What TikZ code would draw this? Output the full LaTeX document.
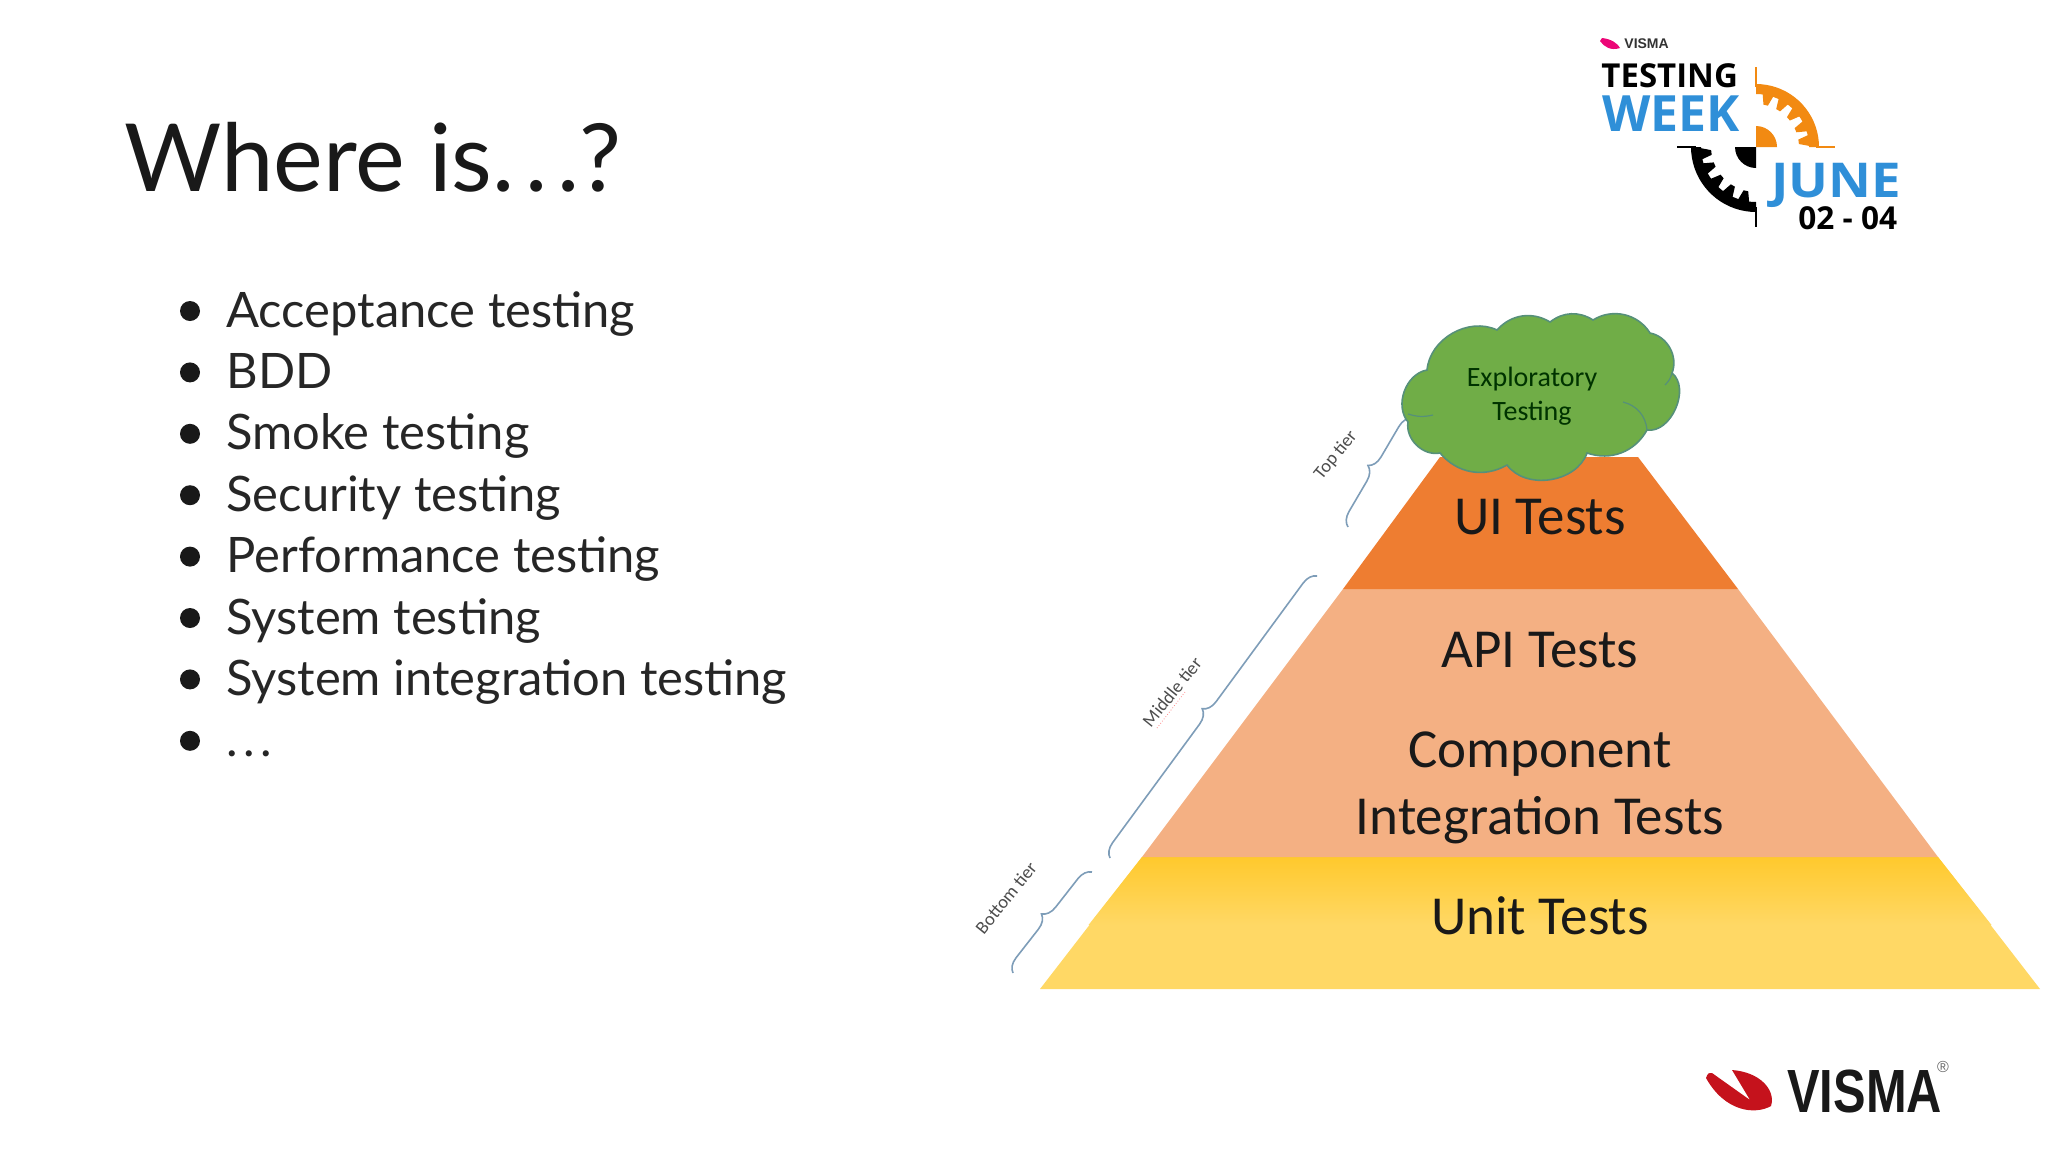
\documentclass[tikz,border=0pt]{standalone}
\usepackage{fontspec}
\setmainfont{Lato}
\newfontfamily\calibri{Carlito}
\newfontfamily\logofont{Open Sans}
\newfontfamily\wordmark{Liberation Sans}
\usetikzlibrary{decorations.pathreplacing}

\definecolor{uiorange}{HTML}{EE7D31}
\definecolor{midorange}{HTML}{F4B083}
\definecolor{unityellow}{HTML}{FFD865}
\definecolor{unitgold}{HTML}{FFC92D}
\definecolor{cloudgreen}{HTML}{70AD47}
\definecolor{cloudedge}{HTML}{56907A}
\definecolor{bracecol}{HTML}{7E9DB8}
\definecolor{logoblue}{HTML}{2F8FD8}
\definecolor{gearorange}{HTML}{F28A12}
\definecolor{vismared}{HTML}{C5121C}

\newcommand{\spaceddots}{.\kern.11em.\kern.11em.}

\tikzset{
    titletext/.style={anchor=base west,inner sep=0pt,font=\fontsize{47}{47}\selectfont,text=black!90},
    itemtext/.style={anchor=base west,inner sep=0pt,font=\fontsize{24.45}{25}\selectfont,text=black!85},
    itemdot/.style={circle,fill=black!90,inner sep=0pt,minimum size=10pt},
    tierfill/.style={font=\calibri\fontsize{27.5}{27.5}\selectfont,text=black!90,inner sep=0pt},
    tierlabel/.style={font=\calibri\fontsize{9.2}{9.2}\selectfont,text=black!70,inner sep=0pt,rotate=51},
    tierbrace/.style={draw=bracecol,line width=.8pt,decorate,decoration={brace,amplitude=7pt}},
    logotext/.style={font=\logofont\bfseries,inner sep=0pt,anchor=base west}
}

\begin{document}
\begin{tikzpicture}[x=.5pt,y=-.5pt]
    \useasboundingbox (0,0) rectangle (2048,1152);

    \node[titletext] (title) at (124,191) {Where is\spaceddots?};
    \foreach \idx/\txt in {0/Acceptance testing,1/BDD,2/Smoke testing,3/Security testing,
        4/Performance testing,5/System testing,6/System integration testing,7/\spaceddots}{
        \node[itemdot] (dot\idx) at (190,{311+61.4*\idx}) {};
        \node[itemtext] (item\idx) at (226,{327+61.4*\idx}) {\txt};
    }

    % pyramid
    \fill[unityellow] (1040,989) -- (1142,857) -- (1938,857) -- (2040,989) -- cycle;
    \shade[top color=unitgold,bottom color=unityellow] (1142,857) -- (1938,857) -- (1991.5,925) -- (1088.5,925) -- cycle;
    \fill[midorange] (1142,857) -- (1343,589) -- (1738,589) -- (1938,857) -- cycle;
    \fill[uiorange] (1343,589) -- (1440,457) -- (1638,457) -- (1738,589) -- cycle;

    \node[tierfill] (ui) at (1540,517) {UI Tests};
    \node[tierfill] (api) at (1540,650) {API Tests};
    \node[tierfill] (component) at (1540,754) {Component};
    \node[tierfill] (integration) at (1540,820) {Integration Tests};
    \node[tierfill] (unit) at (1540,916) {Unit Tests};

    % braces
    \coordinate (topa) at (1348,527);
    \coordinate (topb) at (1412,418);
    \coordinate (mida) at (1110,858);
    \coordinate (midb) at (1317,576);
    \coordinate (bota) at (1013,973);
    \coordinate (botb) at (1092,872);
    \draw[tierbrace] (topa) -- (topb);
    \draw[tierbrace] (mida) -- (midb);
    \draw[tierbrace] (bota) -- (botb);
    \node[tierlabel] (toplabel) at (1336,455) {Top tier};
    \node[tierlabel] (midlabel) at (1172,692) {Middle tier};
    \node[tierlabel] (botlabel) at (1006,898) {Bottom tier};
    \draw[red!45,line width=.4pt,densely dotted] (1157,728) -- (1185,692);

    % cloud
    \draw[draw=cloudedge,fill=cloudgreen,line width=.8pt] (1408,422)
        to[bend left=60] (1427,370) to[bend left=55] (1497,330) to[bend left=40] (1550,322)
        to[bend left=35] (1593,320) to[bend left=45] (1650,333) to[bend left=50] (1672,373)
        to[bend left=75] (1647,430) to[bend left=40] (1587,453) to[bend left=62] (1507,465)
        to[bend left=40] (1440,453) to[bend left=55] (1408,422) -- cycle;
    \draw[draw=cloudedge,line width=.6pt] (1408,414) to[bend right=15] (1433,415);
    \draw[draw=cloudedge,line width=.6pt] (1623,402) to[bend left=35] (1647,430);
    \draw[draw=cloudedge,line width=.6pt] (1672,373) to[bend left=15] (1665,385);
    \node[align=center,inner sep=0pt,font=\calibri\fontsize{14}{17}\selectfont,text=black!80!green] (explore) at (1532,396)
        {Exploratory\\Testing};

    % testing week logo
    \coordinate (gear) at (1756,147);
    \begin{scope}[shift={(gear)}]
        \fill[gearorange] plot[domain=270:360,samples=20] (\x:63) -- plot[domain=360:270,samples=20] (\x:53) -- cycle;
        \fill[gearorange] (0,0) -- (0,-21) arc[start angle=-90,end angle=0,radius=21] -- cycle;
        \draw[gearorange,line width=.8pt] (0,-60) -- (0,-80) (60,0) -- (79,0);
        \fill[black] plot[domain=90:180,samples=20] (\x:65) -- plot[domain=180:90,samples=20] (\x:55) -- cycle;
        \fill[black] (0,0) -- (0,21) arc[start angle=90,end angle=180,radius=21] -- cycle;
        \draw[black,line width=.8pt] (0,60) -- (0,80) (-60,0) -- (-79,0);
        \foreach \ang in {283,301,319,337,353}{
            \fill[gearorange] (\ang-6:54) -- (\ang-3:43) -- (\ang+3:43) -- (\ang+6:54) -- cycle;
        }
        \foreach \ang in {103,121,139,157,173}{
            \fill[black] (\ang-6:56) -- (\ang-3:45) -- (\ang+3:45) -- (\ang+6:56) -- cycle;
        }
    \end{scope}
    \node[logotext,font=\logofont\bfseries\fontsize{16.5}{16.5}\selectfont] (testing) at (1601,87) {TESTING};
    \node[logotext,text=logoblue,font=\logofont\bfseries\fontsize{25}{25}\selectfont] (week) at (1602,131) {WEEK};
    \node[logotext,text=logoblue,xscale=1.1,font=\logofont\bfseries\fontsize{24}{24}\selectfont] (june) at (1771,197) {JUNE};
    \node[logotext,font=\logofont\bfseries\fontsize{15.8}{15.8}\selectfont] (dates) at (1798,229) {02 - 04};
    \node[logotext,text=black!80,font=\wordmark\bfseries\fontsize{7}{7}\selectfont] (smallword) at (1624,48) {VISMA};
    \fill[magenta!80!red] (1602,38) .. controls (1612,39) and (1618,44) .. (1620,48) .. controls (1611,51) and (1604,47) .. (1600,41) -- cycle;

    % visma wordmark
    \fill[vismared] (1732,1070) .. controls (1760,1072) and (1776,1090) .. (1771,1106)
        .. controls (1755,1115) and (1725,1112) .. (1706,1078) .. controls (1708,1073) .. (1712,1073)
        -- (1750,1100) -- cycle;
    \node[inner sep=0pt,anchor=base west,xscale=.8,text=black!90,font=\wordmark\bfseries\fontsize{30.5}{30.5}\selectfont] (vismaword) at (1787,1112) {VISMA};
    \node[inner sep=0pt,text=black!60,font=\wordmark\fontsize{8}{8}\selectfont] (vismareg) at (1943,1067) {®};
\end{tikzpicture}
\end{document}
